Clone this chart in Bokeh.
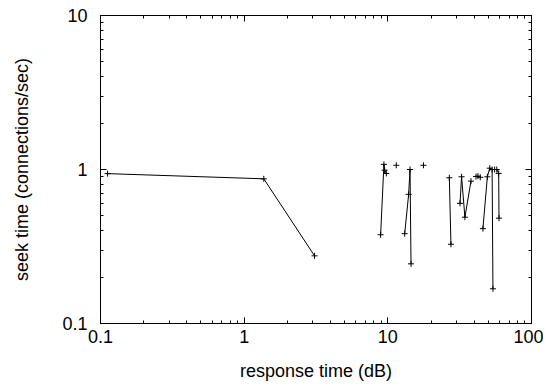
import math
from bokeh.plotting import figure
from bokeh.models import LogAxis, FixedTicker, ColumnDataSource, CustomJSTickFormatter
from bokeh.embed import file_html
from bokeh.resources import INLINE

# data (NaN separates line pieces)
nan = float("nan")
resp_time = [0.112, 1.37, 3.09, nan,
             8.91, 9.39, 9.5, 9.76, nan,
             11.45, nan,
             17.7, nan,
             13.1, 13.96, 14.27, 14.5, nan,
             26.8, 27.5, nan,
             31.8, 32.6, 34.4, 37.9, nan,
             41.1, 42.4, 44.0, nan,
             45.9, 49.3, 51.2, 53.2, 53.9, nan,
             55.4, 57.3, 59.1, 59.4]
seek_time = [0.94, 0.87, 0.275, nan,
             0.377, 1.08, 0.99, 0.943, nan,
             1.065, nan,
             1.065, nan,
             0.383, 0.69, 1.0, 0.244, nan,
             0.884, 0.327, nan,
             0.603, 0.897, 0.49, 0.84, nan,
             0.9, 0.905, 0.89, nan,
             0.413, 0.897, 1.02, 1.0, 0.168, nan,
             1.0, 1.0, 0.943, 0.483]

x_ticks = [0.1, 1, 10, 100]
x_tick_labels = ["0.1", "1", "10", "100"]
y_ticks = [0.1, 1, 10]
y_tick_labels = ["0.1", "1", "10"]

x_minor = [m * t for t in x_ticks[:-1] for m in range(2, 10)]
y_minor = [m * t for t in y_ticks[:-1] for m in range(2, 10)]

FONT = "Liberation Sans"

p = figure(width=543, height=383, x_axis_type="log", y_axis_type="log",
           x_range=(0.1, 100), y_range=(0.1, 10),
           output_backend="svg", toolbar_location=None,
           min_border_left=100, min_border_right=12,
           min_border_top=15, min_border_bottom=57)
p.grid.visible = False
p.outline_line_color = "black"
p.outline_line_width = 1
p.background_fill_color = "white"
p.border_fill_color = "white"

src = ColumnDataSource(dict(x=resp_time, y=seek_time))
p.line("x", "y", source=src, line_color="black", line_width=1)
p.scatter("x", "y", source=src, marker="cross", size=6,
          line_color="black", line_width=1)

def formatter(ticks, labels):
    return CustomJSTickFormatter(args=dict(t=ticks, l=labels), code="""
        for (let i = 0; i < t.length; i++) {
            if (Math.abs(Math.log10(tick) - Math.log10(t[i])) < 1e-6) return l[i];
        }
        return "";
    """)

def style(ax, ticks, minor, labels, show):
    ax.ticker = FixedTicker(ticks=ticks, minor_ticks=minor)
    ax.major_tick_in = 6
    ax.major_tick_out = 0
    ax.minor_tick_in = 3
    ax.minor_tick_out = 0
    ax.major_tick_line_color = "black"
    ax.minor_tick_line_color = "black"
    ax.axis_line_color = "black"
    if show:
        ax.formatter = formatter(ticks, labels)
        ax.major_label_text_font = FONT
        ax.major_label_text_font_size = "18px"
        ax.major_label_text_color = "black"
        ax.axis_label_text_font = FONT
        ax.axis_label_text_font_size = "18px"
        ax.axis_label_text_font_style = "normal"
        ax.axis_label_text_color = "black"
    else:
        ax.formatter = formatter(ticks, ["" for _ in labels])
        ax.major_label_text_font_size = "1px"
        ax.major_label_text_color = None
        ax.major_label_standoff = 0

xa = p.xaxis[0]
ya = p.yaxis[0]
style(xa, x_ticks, x_minor, x_tick_labels, True)
style(ya, y_ticks, y_minor, y_tick_labels, True)
xa.axis_label = "response time (dB)"
ya.axis_label = "seek time (connections/sec)"
xa.major_label_standoff = 6
ya.major_label_standoff = 13
xa.axis_label_standoff = 15
ya.axis_label_standoff = 27

top = LogAxis()
right = LogAxis()
style(top, x_ticks, x_minor, x_tick_labels, False)
style(right, y_ticks, y_minor, y_tick_labels, False)
p.add_layout(top, "above")
p.add_layout(right, "right")

open("out.html", "w").write(file_html(p, INLINE))
